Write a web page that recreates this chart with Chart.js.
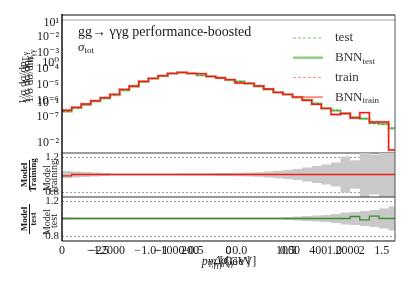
<!DOCTYPE html>
<html>
<head>
<meta charset="utf-8">
<script src="https://cdn.jsdelivr.net/npm/chart.js@4.4.1/dist/chart.umd.min.js"></script>
<style>
    html, body { margin: 0; padding: 0; background: #fff; }
    #wrap { position: relative; width: 411px; height: 288px; overflow: hidden; }
    #wrap canvas { position: absolute; left: 0; top: 0; }
</style>
</head>
<body>
<div id="wrap">
    <canvas id="mainChart" width="411" height="288"></canvas>
    <canvas id="mainOverlay" width="411" height="288"></canvas>
    <canvas id="trainRatioChart" width="411" height="288"></canvas>
    <canvas id="testRatioChart" width="411" height="288"></canvas>
    <canvas id="etaOverlay" width="411" height="288"></canvas>
    <canvas id="phiOverlay" width="411" height="288"></canvas>
    <canvas id="massOverlay" width="411" height="288"></canvas>
</div>
<script>
(function() {
    'use strict';

    // Bin edges of the photon pT histogram [GeV]
    var binEdges = [0, 15, 30, 45, 60, 75, 90, 105, 120, 135, 150, 165, 180, 195, 210, 225, 240, 255,
        270, 285, 300, 315, 330, 345, 360, 375, 390, 405, 420, 435, 450, 465, 480, 495, 510, 525];

    // Truth distributions
    var trainVals = [0.0668, 0.0781, 0.0944, 0.114, 0.136, 0.165, 0.220, 0.266, 0.349, 0.415, 0.482, 0.553,
        0.586, 0.553, 0.540, 0.465, 0.422, 0.382, 0.316, 0.311, 0.266, 0.224, 0.185, 0.165, 0.141, 0.117,
        0.0928, 0.0737, 0.0516, 0.0547, 0.0422, 0.0572, 0.0335, 0.0335, 0.00668];
    var testVals = [0.0613, 0.0750, 0.0907, 0.110, 0.131, 0.159, 0.209, 0.257, 0.339, 0.407, 0.473, 0.543,
        0.575, 0.543, 0.493, 0.457, 0.432, 0.376, 0.345, 0.306, 0.262, 0.220, 0.183, 0.162, 0.139, 0.119,
        0.0972, 0.0729, 0.0649, 0.0547, 0.0434, 0.0410, 0.0307, 0.0299, 0.0233];

    // Model / truth ratios
    var trainRatio = [0.985, 1, 1, 1, 1, 1, 1, 1, 1, 1, 1, 1, 1, 1, 1, 1, 1, 1, 1, 1, 1, 1, 1, 1, 1, 1,
        1, 1, 1, 1, 1, 1, 1, 1, 1];
    var testRatio = [1, 1, 1, 1, 1, 1, 1, 1, 1, 1, 1, 1, 1, 1, 1, 1, 1, 1, 1, 1, 1, 1, 1, 1, 1, 1,
        1, 1, 1, 1, 1.023, 0.985, 1.027, 1, 1];

    // Relative statistical uncertainty of the truth (grey bands)
    var trainUnc = [0.040, 0.034, 0.029, 0.023, 0.017, 0.011, 0.011, 0.011, 0.011, 0.011, 0.011, 0.011,
        0.014, 0.014, 0.014, 0.015, 0.017, 0.018, 0.021, 0.023, 0.026, 0.034, 0.042, 0.051, 0.063, 0.080,
        0.097, 0.114, 0.137, 0.206, 0.163, 0.30, 0.229, 0.32, 0.34];
    var testUnc = [0.017, 0.015, 0.012, 0.011, 0.011, 0.011, 0.011, 0.011, 0.011, 0.011, 0.011, 0.011,
        0.011, 0.011, 0.011, 0.011, 0.011, 0.011, 0.011, 0.011, 0.011, 0.011, 0.011, 0.017, 0.023, 0.029,
        0.034, 0.040, 0.051, 0.069, 0.074, 0.086, 0.097, 0.114, 0.137];

    // Tick values
    var ratioTicks = [0.8, 1.0, 1.2];
    var ratioLabelled = [0.8, 1.2];
    var ptTicks = [0, 200, 400];
    var etaTicks = [-2, -1, 0, 1, 2];
    var phiTicks = [-1.5, -1.0, -0.5, 0.0, 0.5, 1.0, 1.5];
    var massTicks = [-2000, -1000, 0, 1000, 2000];

    var SERIF = '"Liberation Serif", "DejaVu Serif", serif';
    var INK = '#1a1a1a';
    var RED = '#f01c14';
    var GREEN = '#3b8f2b';

    var SUP = { '-': '\u207b', '0': '\u2070', '1': '\u00b9', '2': '\u00b2', '3': '\u00b3', '4': '\u2074',
        '5': '\u2075', '6': '\u2076', '7': '\u2077', '8': '\u2078', '9': '\u2079' };

    Chart.defaults.font.family = SERIF;
    Chart.defaults.color = INK;

    // histogram -> step points on the bin edges
    function histPoints(vals) {
        var pts = vals.map(function(v, i) { return { x: binEdges[i], y: v }; });
        pts.push({ x: binEdges[vals.length], y: vals[vals.length - 1] });
        return pts;
    }

    function times(a, b) { return a.map(function(v, i) { return v * b[i]; }); }
    function shift(a, s) { return a.map(function(u) { return 1 + s * u; }); }

    function powerLabel(e) {
        return '10' + String(e).split('').map(function(c) { return SUP[c]; }).join('');
    }

    function logTicks(lo, hi) {
        return function(v) {
            var l = Math.log10(v), e = Math.round(l);
            if (Math.abs(l - e) > 1e-6 || e < lo || e > hi) return '';
            return powerLabel(e);
        };
    }

    function minus(s) { return String(s).replace('-', '\u2212'); }

    // text made of parts: [text, size, style, dy]
    function drawParts(ctx, parts, x, y, align) {
        var w = 0;
        ctx.textBaseline = 'middle';
        ctx.textAlign = 'left';
        parts.forEach(function(p) {
            ctx.font = (p[2] || '') + ' ' + p[1] + 'px ' + SERIF;
            w += ctx.measureText(p[0]).width;
        });
        var cx = align === 'center' ? x - w / 2 : (align === 'right' ? x - w : x);
        parts.forEach(function(p) {
            ctx.font = (p[2] || '') + ' ' + p[1] + 'px ' + SERIF;
            ctx.fillText(p[0], cx, y + (p[3] || 0));
            cx += ctx.measureText(p[0]).width;
        });
    }

    function drawRotated(ctx, parts, x, y) {
        ctx.save();
        ctx.translate(x, y);
        ctx.rotate(-Math.PI / 2);
        drawParts(ctx, parts, 0, 0, 'center');
        ctx.restore();
    }

    function hline(ctx, x0, x1, y, color, width, dash) {
        ctx.save();
        ctx.beginPath();
        ctx.strokeStyle = color;
        ctx.lineWidth = width;
        ctx.setLineDash(dash || []);
        ctx.moveTo(x0, y);
        ctx.lineTo(x1, y);
        ctx.stroke();
        ctx.restore();
    }

    function vline(ctx, x, y0, y1, color, width) {
        ctx.save();
        ctx.beginPath();
        ctx.strokeStyle = color;
        ctx.lineWidth = width;
        ctx.moveTo(x, y0);
        ctx.lineTo(x, y1);
        ctx.stroke();
        ctx.restore();
    }

    function fixWidth(w) { return function(scale) { scale.width = w; }; }
    function fixHeight(h) { return function(scale) { scale.height = h; }; }
    function useTicks(list) {
        return function(scale) { scale.ticks = list.map(function(v) { return { value: v }; }); };
    }

    function baseOptions(padding, scales) {
        return {
            responsive: false,
            animation: false,
            events: [],
            layout: { padding: padding },
            scales: scales,
            elements: { point: { radius: 0 }, line: { tension: 0 } },
            plugins: { legend: { display: false }, tooltip: { enabled: false } }
        };
    }

    function stepLine(data, color, width, dash) {
        return { data: data, xAxisID: 'x', yAxisID: 'y', borderColor: color, borderWidth: width,
            borderDash: dash || [], stepped: true, fill: false, pointRadius: 0 };
    }

    var hiddenX = { type: 'linear', min: 0, max: 520, display: false };

    // Legend entries of the main panel
    var legendItems = [
        { parts: [['test', 13]], color: 'rgba(110,185,90,0.9)', width: 1, dash: [3, 2] },
        { parts: [['BNN', 13], ['test', 9, '', 4]], color: 'rgba(120,195,100,0.8)', width: 2.5, dash: [] },
        { parts: [['train', 13]], color: 'rgba(255,120,120,0.9)', width: 1, dash: [3, 2] },
        { parts: [['BNN', 13], ['train', 9, '', 4]], color: 'rgba(245,60,50,0.9)', width: 1.2, dash: [] }
    ];

    var mainDecor = {
        id: 'mainDecor',
        afterDraw: function(chart) {
            var ctx = chart.ctx, a = chart.chartArea;
            ctx.save();
            ctx.fillStyle = INK;
            drawParts(ctx, [['gg\u2192 \u03b3\u03b3g performance-boosted', 14]], a.left + 16, 32, 'left');
            drawParts(ctx, [['\u03c3', 13, 'italic'], ['tot', 9, '', 3]], a.left + 16, 48, 'left');

            legendItems.forEach(function(item, i) {
                var y = 38 + i * 19.7;
                hline(ctx, 293, 323, y, item.color, item.width, item.dash);
                ctx.fillStyle = '#333';
                drawParts(ctx, item.parts, 335, y, 'left');
            });

            // overlapping y titles
            ctx.fillStyle = INK;
            drawRotated(ctx, [['1/\u03c3 d\u03c3/dp', 11], ['T,\u03b3', 8, '', 3]], 23, 78);
            drawRotated(ctx, [['1/\u03c3 d\u03c3/d\u03b7', 11], ['\u03b3', 8, '', 3]], 27, 80);
            drawRotated(ctx, [['1/\u03c3 d\u03c3/dm', 11], ['\u03b3\u03b3', 8, '', 3]], 30, 76);

            // frame
            hline(ctx, a.left, a.right, a.top, '#858585', 2);
            hline(ctx, a.left, a.right, a.top + 5, '#a0a0a0', 1);
            hline(ctx, a.left, a.right, a.bottom, '#7a7a7a', 1.5);
            vline(ctx, a.right, a.top, a.bottom, '#555', 1);
            vline(ctx, a.left, a.top - 1, a.bottom, '#000', 1.4);
            ctx.restore();
        }
    };

    function ratioDecor(num, den, bottomColor, bottomWidth) {
        return {
            id: 'ratioDecor',
            afterDraw: function(chart) {
                var ctx = chart.ctx, a = chart.chartArea, cy = (a.top + a.bottom) / 2;
                ctx.save();
                ctx.fillStyle = INK;
                // bold fraction title
                drawRotated(ctx, [[num, 9, 'bold']], 25, cy);
                vline(ctx, 29.5, cy - 15, cy + 15, INK, 1);
                drawRotated(ctx, [[den, 9, 'bold']], 34, cy);
                // plain title underneath
                drawRotated(ctx, [[num, 10]], 47, cy + 3);
                drawRotated(ctx, [[den, 10]], 54, cy + 2);
                hline(ctx, a.left, a.right, a.bottom, bottomColor, bottomWidth);
                vline(ctx, a.right, a.top, a.bottom, '#555', 1);
                vline(ctx, a.left, a.top, a.bottom, '#000', 1.4);
                ctx.restore();
            }
        };
    }

    var xTitleDecor = {
        id: 'xTitleDecor',
        afterDraw: function(chart) {
            var ctx = chart.ctx;
            ctx.save();
            ctx.fillStyle = INK;
            drawParts(ctx, [['p', 12, 'italic'], ['T,\u03b3', 8, 'italic', 3], [' [GeV]', 12]], 226, 262, 'center');
            drawParts(ctx, [['m', 12, 'italic'], ['\u03b3\u03b3', 8, 'italic', 3], [' [GeV]', 12]], 232, 262, 'center');
            drawParts(ctx, [['\u0394\u03c6', 12, 'italic'], ['\u03b3\u03b3', 8, 'italic', 3]], 224, 261, 'center');
            ctx.restore();
        }
    };

    function ratioYAxis() {
        return {
            type: 'linear', position: 'left', min: 0.743, max: 1.246,
            afterFit: fixWidth(62),
            afterBuildTicks: useTicks(ratioTicks),
            grid: { color: '#9a9a9a', lineWidth: 1, drawTicks: false },
            border: { display: false, dash: [2, 2] },
            ticks: {
                padding: 3, autoSkip: false, font: { size: 11 },
                callback: function(v) { return ratioLabelled.indexOf(v) >= 0 ? v.toFixed(1) : ''; }
            }
        };
    }

    function bottomX(min, max, list, fmt) {
        return {
            type: 'linear', position: 'bottom', min: min, max: max,
            afterFit: fixHeight(47),
            afterBuildTicks: useTicks(list),
            grid: { display: false, drawTicks: false }, border: { display: false },
            ticks: { autoSkip: false, maxRotation: 0, padding: 3, font: { size: 12 }, callback: fmt }
        };
    }

    function logY(minExp, maxExp, lo, hi) {
        return {
            type: 'logarithmic', position: 'left',
            min: Math.pow(10, minExp), max: Math.pow(10, maxExp),
            afterFit: fixWidth(62),
            grid: { display: false, drawTicks: false }, border: { display: false },
            ticks: { autoSkip: false, padding: 3, font: { size: 12 }, callback: logTicks(lo, hi) }
        };
    }

    function ratioDatasets(ratio, unc, color) {
        var up = stepLine(histPoints(shift(unc, 1)), 'rgba(0,0,0,0)', 0);
        var lo = stepLine(histPoints(shift(unc, -1)), 'rgba(0,0,0,0)', 0);
        lo.fill = '-1';
        lo.backgroundColor = '#c9c9c9';
        return [stepLine(histPoints(ratio), color, 1.3), up, lo];
    }

    // Main panel
    new Chart(document.getElementById('mainChart'), {
        type: 'line',
        data: {
            datasets: [
                stepLine(histPoints(times(trainVals, trainRatio)), RED, 1.3),
                stepLine(histPoints(testVals), GREEN, 1, [3, 1.5]),
                stepLine(histPoints(trainVals), 'rgba(255,120,120,0.6)', 2.6, [5, 1]),
                stepLine(histPoints(times(testVals, testRatio)), 'rgba(110,185,90,0.7)', 2.4)
            ]
        },
        options: baseOptions({ top: 15, bottom: 135, left: 0, right: 16 }, {
            x: hiddenX,
            y: logY(-2.25, 1.2, -2, 1)
        }),
        plugins: [mainDecor]
    });

    // second log axis printed over the first one
    new Chart(document.getElementById('mainOverlay'), {
        type: 'line',
        data: { datasets: [] },
        options: baseOptions({ top: 15, bottom: 135, left: 0, right: 16 }, {
            x: hiddenX,
            y: logY(-9.27, -0.644, -7, -2)
        })
    });

    // Model / Training
    new Chart(document.getElementById('trainRatioChart'), {
        type: 'line',
        data: { datasets: ratioDatasets(trainRatio, trainUnc, RED) },
        options: baseOptions({ top: 153, bottom: 91, left: 0, right: 16 }, {
            x: hiddenX,
            y: ratioYAxis()
        }),
        plugins: [ratioDecor('Model', 'Training', '#333', 1.2)]
    });

    // Model / test, carries the pT axis
    new Chart(document.getElementById('testRatioChart'), {
        type: 'line',
        data: { datasets: ratioDatasets(testRatio, testUnc, GREEN) },
        options: baseOptions({ top: 197, bottom: 0, left: 0, right: 16 }, {
            x: bottomX(0, 520, ptTicks, function(v) { return String(v); }),
            y: ratioYAxis()
        }),
        plugins: [ratioDecor('Model', 'test', '#858585', 2), xTitleDecor]
    });

    // extra x axes printed over the pT axis
    function xOverlay(id, min, max, list, fmt) {
        new Chart(document.getElementById(id), {
            type: 'line',
            data: { datasets: [] },
            options: baseOptions({ top: 197, bottom: 0, left: 62, right: 16 }, {
                x: bottomX(min, max, list, fmt),
                y: { type: 'linear', min: 0, max: 1, display: false }
            })
        });
    }

    xOverlay('etaOverlay', -2.5, 2.5, etaTicks, function(v) { return minus(v); });
    xOverlay('phiOverlay', -1.88, 1.64, phiTicks, function(v) { return minus(v.toFixed(1)); });
    xOverlay('massOverlay', -2800, 2800, massTicks, function(v) { return minus(v); });
})();
</script>
</body>
</html>
